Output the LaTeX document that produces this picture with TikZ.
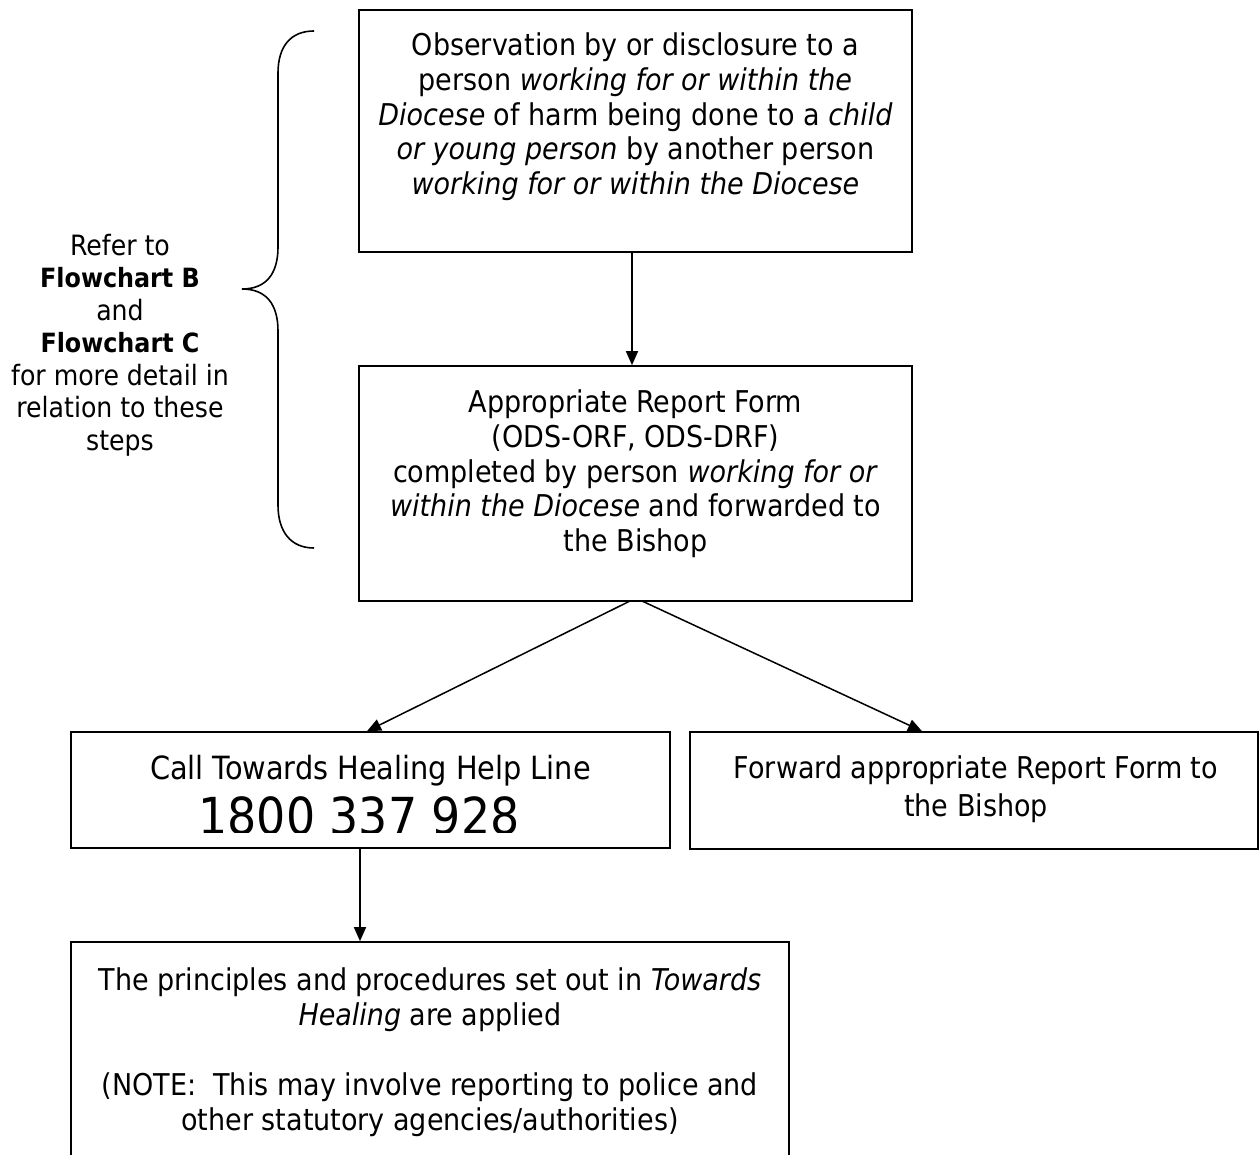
\documentclass[tikz,border=0pt]{standalone}
\usepackage{fontspec}
\setmainfont{DejaVu Sans Condensed}
\usetikzlibrary{arrows.meta}
\newcommand{\sidebold}[1]{{\fontsize{26.5}{32.5}\selectfont\bfseries #1}}
\begin{document}
\begin{tikzpicture}[x=1pt,y=-1pt,
  box/.style={draw,line width=1.6pt,rectangle,inner sep=0pt},
  txt/.style={align=center,inner sep=0pt,anchor=north,font=\fontsize{30}{34.6}\selectfont},
  side/.style={align=center,inner sep=0pt,anchor=north,font=\fontsize{28}{32.5}\selectfont},
  arr/.style={line width=1.5pt,-{Triangle[length=14pt,width=12pt]}},
  brace/.style={line width=1.6pt},
]
\clip (0,0) rectangle (1260,1155);
% boxes
\node[box,minimum width=553pt,minimum height=242pt] (b1) at (635.5,131) {};
\node[box,minimum width=553pt,minimum height=235pt] (b2) at (635.5,483.5) {};
\node[box,minimum width=599pt,minimum height=116pt] (b3) at (370.5,790) {};
\node[box,minimum width=568pt,minimum height=117pt] (b4) at (974,790.5) {};
\node[box,minimum width=718pt,minimum height=233pt] (b5) at (430,1058.5) {};
% texts
\node[txt] (t1) at (635.5,33) {Observation by or disclosure to a\\ person \textit{working for or within the}\\ \textit{Diocese} of harm being done to a \textit{child}\\ \textit{or young person} by another person\\ \textit{working for or within the Diocese}};
\node[txt] (t2) at (635.5,390) {Appropriate Report Form\\ (ODS-ORF, ODS-DRF)\\ completed by person \textit{working for or}\\ \textit{within the Diocese} and forwarded to\\ the Bishop};
\node[txt,font=\fontsize{32}{36}\selectfont] (t3) at (370.5,755) {Call Towards Healing Help Line};
\begin{scope}
\clip (71,732) rectangle (670,832);
\node[inner sep=0pt,anchor=north,font=\fontsize{51}{55}\selectfont] (t3n) at (359,796) {1800 337 928};
\end{scope}
\node[txt,font=\fontsize{30}{37}\selectfont] (t4) at (976,756) {Forward appropriate Report Form to\\ the Bishop};
\node[txt,font=\fontsize{30}{35}\selectfont] (t5) at (430,967) {The principles and procedures set out in \textit{Towards}\\ \textit{Healing} are applied\\[35pt] (NOTE:\ \ This may involve reporting to police and\\ other statutory agencies/authorities)};
\node[side] (ts) at (120,234) {Refer to\\ \sidebold{Flowchart B}\\ and\\ \sidebold{Flowchart C}\\ for more detail in\\ relation to these\\ steps};
% connectors
\coordinate (x1) at (632,0);
\coordinate (x2) at (367,0);
\coordinate (x3) at (922,0);
\coordinate (x4) at (360,0);
\coordinate (s1) at (630,601);
\coordinate (s2) at (642,601);
\draw[arr] (b1.south -| x1) -- (b2.north -| x1);
\draw[arr] (s1) -- (b3.north -| x2);
\draw[arr] (s2) -- (b4.north -| x3);
\draw[arr] (b3.south -| x4) -- (b5.north -| x4);
% brace
\draw[brace] (314,31) .. controls (291,31) and (278,46) .. (278,73) -- (278,247)
  .. controls (278,274) and (266,289) .. (242,289)
  .. controls (266,289) and (278,304) .. (278,331) -- (278,505)
  .. controls (278,532) and (291,548) .. (314,548);
\end{tikzpicture}
\end{document}
